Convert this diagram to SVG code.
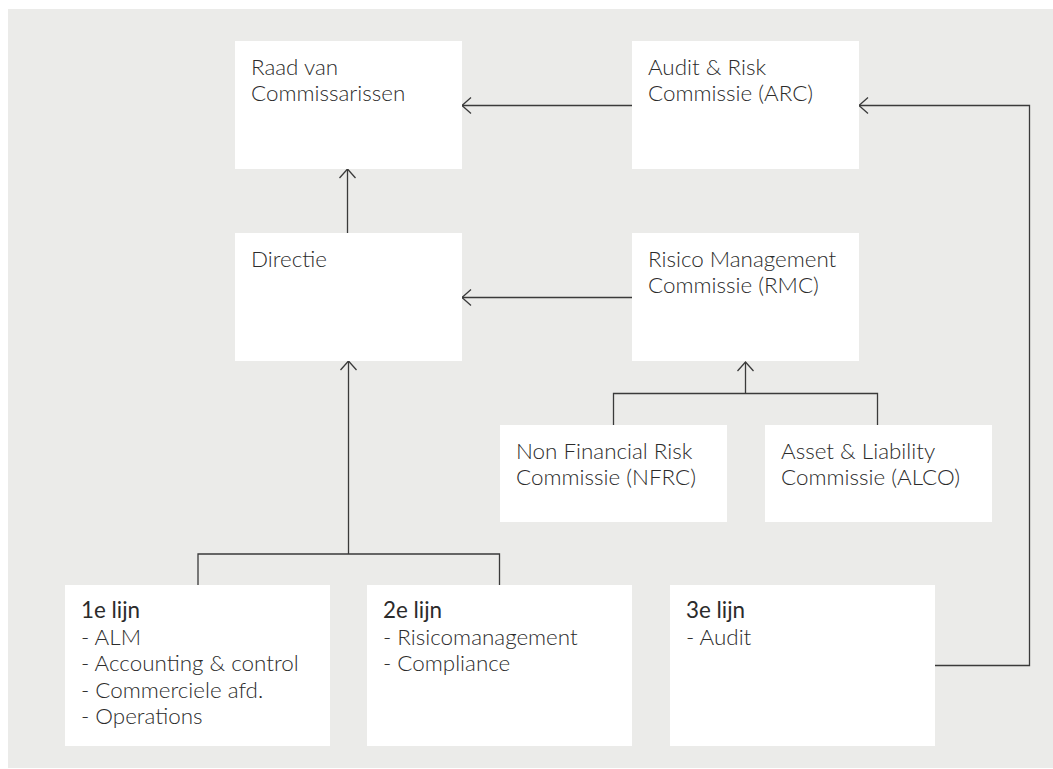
<svg xmlns="http://www.w3.org/2000/svg" width="1053" height="769" viewBox="0 0 1053 769">
<defs>
<style>
.bg{fill:#ebebe9}
.box{fill:#ffffff}
.t{font-family:Lato,"Liberation Sans",sans-serif;font-size:22.4px;font-weight:300;fill:#2b2b2b}
.b{font-weight:400}
.c{fill:none;stroke:#3a3a3a;stroke-width:1.3}
</style>
<marker id="ah" markerWidth="12" markerHeight="20" viewBox="-10 -9 12 18" refX="0" refY="0" orient="auto" markerUnits="userSpaceOnUse">
<path d="M-9,-8 L0,0 L-9,8" fill="none" stroke="#3a3a3a" stroke-width="1.3"/>
</marker>
</defs>
<rect class="bg" x="8" y="9" width="1045" height="759"/>
<g id="connectors">
<path class="c" d="M632,105.5 L462,105.5" marker-end="url(#ah)"/>
<path class="c" d="M347.5,233 L347.5,169" marker-end="url(#ah)"/>
<path class="c" d="M632,297.5 L462,297.5" marker-end="url(#ah)"/>
<path class="c" d="M613.5,425 L613.5,393.5 L877.5,393.5 L877.5,425"/>
<path class="c" d="M745.5,393.5 L745.5,362" marker-end="url(#ah)"/>
<path class="c" d="M198,585 L198,554 L499.5,554 L499.5,585"/>
<path class="c" d="M348.5,554 L348.5,361" marker-end="url(#ah)"/>
<path class="c" d="M935,665.5 L1029.5,665.5 L1029.5,105.5 L859,105.5" marker-end="url(#ah)"/>
</g>
<g id="raad">
<rect class="box" x="235" y="41" width="227" height="128"/>
<text class="t" x="251" y="74.5">Raad van</text>
<text class="t" x="251" y="100.5">Commissarissen</text>
</g>
<g id="arc">
<rect class="box" x="632" y="41" width="227" height="128"/>
<text class="t" x="648" y="74.5">Audit &amp; Risk</text>
<text class="t" x="648" y="100.5">Commissie (ARC)</text>
</g>
<g id="directie">
<rect class="box" x="235" y="233" width="227" height="128"/>
<text class="t" x="251" y="266.5">Directie</text>
</g>
<g id="rmc">
<rect class="box" x="632" y="233" width="227" height="128"/>
<text class="t" x="648" y="266.5">Risico Management</text>
<text class="t" x="648" y="292.5">Commissie (RMC)</text>
</g>
<g id="nfrc">
<rect class="box" x="500" y="425" width="227" height="97"/>
<text class="t" x="516" y="458.5">Non Financial Risk</text>
<text class="t" x="516" y="484.5">Commissie (NFRC)</text>
</g>
<g id="alco">
<rect class="box" x="765" y="425" width="227" height="97"/>
<text class="t" x="781" y="458.5">Asset &amp; Liability</text>
<text class="t" x="781" y="484.5">Commissie (ALCO)</text>
</g>
<g id="lijn1">
<rect class="box" x="65" y="585" width="265" height="161"/>
<text class="t b" x="81" y="618">1e lijn</text>
<text class="t" x="81" y="644.5">- ALM</text>
<text class="t" x="81" y="671">- Accounting &amp; control</text>
<text class="t" x="81" y="697.5">- Commerciele afd.</text>
<text class="t" x="81" y="724">- Operations</text>
</g>
<g id="lijn2">
<rect class="box" x="367" y="585" width="265" height="161"/>
<text class="t b" x="383" y="618">2e lijn</text>
<text class="t" x="383" y="644.5">- Risicomanagement</text>
<text class="t" x="383" y="671">- Compliance</text>
</g>
<g id="lijn3">
<rect class="box" x="670" y="585" width="265" height="161"/>
<text class="t b" x="686" y="618">3e lijn</text>
<text class="t" x="686" y="644.5">- Audit</text>
</g>
</svg>
